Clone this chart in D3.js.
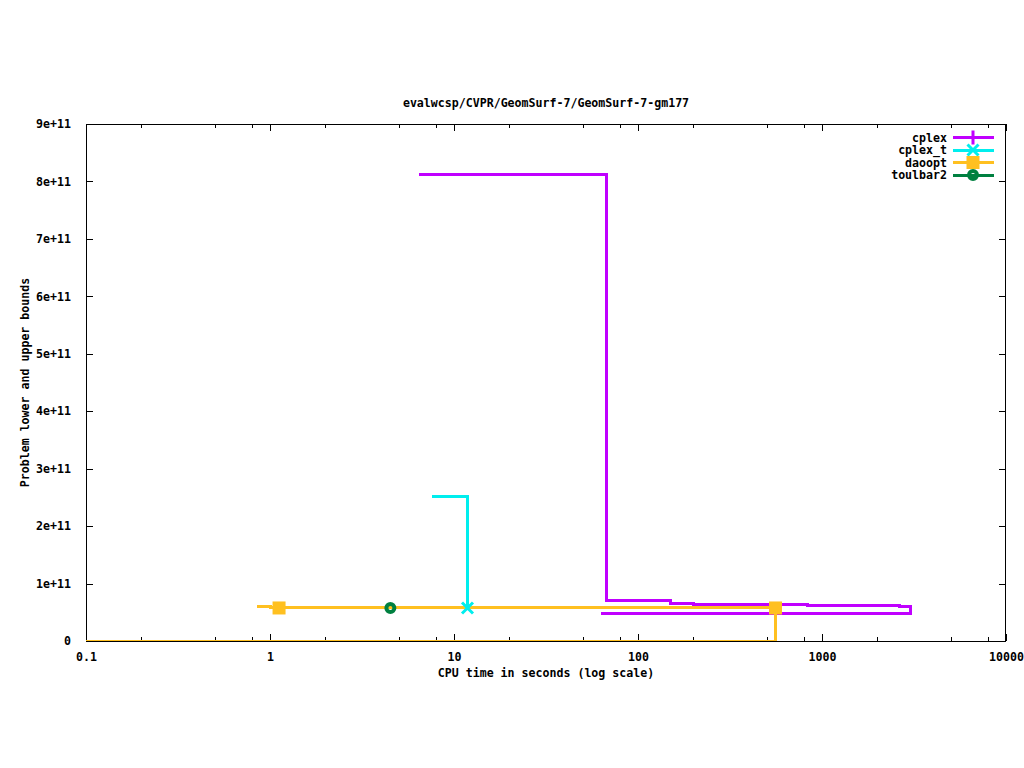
<!DOCTYPE html>
<html><head><meta charset="utf-8">
<script src="https://cdn.jsdelivr.net/npm/d3@7/dist/d3.min.js"></script>
<style>
body{margin:0;background:#fff;}
svg{display:block;}
text{font-family:"DejaVu Sans Mono","Liberation Mono",monospace;font-weight:bold;font-size:11.6px;fill:#000;}
</style></head>
<body>
<svg id="chart" width="1024" height="768"></svg>
<script>
const title = "evalwcsp/CVPR/GeomSurf-7/GeomSurf-7-gm177";
const xLabel = "CPU time in seconds (log scale)";
const yLabel = "Problem lower and upper bounds";
const seriesNames = ["cplex", "cplex_t", "daoopt", "toulbar2"];
const seriesColors = ["#c000ff", "#00eeee", "#ffc020", "#008040"];
const seriesMarkers = ["plus", "cross", "square", "circle"];

// bound paths: [time (s), value] — upper bounds then lower bounds (drawn as steps)
const cplexPath = [[6.45, 8.124e11], [67.3, 7.08e10], [150.6, 6.53e10], [200.8, 6.35e10], [839, 6.2e10], [2644, 6.04e10], [3008, 6.04e10], [3008, 4.82e10], [63, 4.82e10]];
const cplexTPath = [[7.59, 2.52e11], [11.84, 5.75e10]];
const daooptPath = [[0.849, 6.05e10], [1.0, 5.75e10], [558.8, 5.75e10], [558.8, 0], [0.05, 0]];
const toulbar2Path = [];

// marker points
const cplexPoints = [];
const cplexTPoints = [[11.84, 5.75e10]];
const daooptPoints = [[1.12, 5.75e10], [558.8, 5.75e10]];
const toulbar2Points = [[4.51, 5.75e10]];

const xTickValues = [0.1, 1, 10, 100, 1000, 10000];
const xTickLabels = ["0.1", "1", "10", "100", "1000", "10000"];
const xMinorMultipliers = [2, 5, 8];
const yTickValues = [0, 1e11, 2e11, 3e11, 4e11, 5e11, 6e11, 7e11, 8e11, 9e11];
const yTickLabels = ["0", "1e+11", "2e+11", "3e+11", "4e+11", "5e+11", "6e+11", "7e+11", "8e+11", "9e+11"];

const paths = [cplexPath, cplexTPath, daooptPath, toulbar2Path];
const points = [cplexPoints, cplexTPoints, daooptPoints, toulbar2Points];

const L = 86, R = 1006, T = 124, B = 641;
const svg = d3.select("#chart");
const x = d3.scaleLog().domain([0.1, 10000]).range([L, R]);
const y = d3.scaleLinear().domain([0, 9e11]).range([B, T]);

svg.append("defs").append("clipPath").attr("id", "clip")
  .append("rect").attr("x", L).attr("y", T).attr("width", R - L).attr("height", B - T);

// minor ticks
const minor = [];
xTickValues.forEach(v => xMinorMultipliers.forEach(m => { const t = v * m; if (t < 10000) minor.push(t); }));

const gAxes = svg.append("g");
const xAxisB = d3.axisBottom(x).tickValues(xTickValues).tickFormat((d, i) => xTickLabels[i]).tickSizeInner(-7).tickSizeOuter(0).tickPadding(12);
gAxes.append("g").attr("transform", `translate(0,${B})`).call(xAxisB);
const xAxisT = d3.axisTop(x).tickValues(xTickValues).tickFormat("").tickSizeInner(-7).tickSizeOuter(0);
gAxes.append("g").attr("transform", `translate(0,${T})`).call(xAxisT);
const xMinB = d3.axisBottom(x).tickValues(minor).tickFormat("").tickSizeInner(-4).tickSizeOuter(0);
gAxes.append("g").attr("transform", `translate(0,${B})`).call(xMinB);
const xMinT = d3.axisTop(x).tickValues(minor).tickFormat("").tickSizeInner(-4).tickSizeOuter(0);
gAxes.append("g").attr("transform", `translate(0,${T})`).call(xMinT);
const yAxisL = d3.axisLeft(y).tickValues(yTickValues).tickFormat((d, i) => yTickLabels[i]).tickSizeInner(-7).tickSizeOuter(0).tickPadding(15);
gAxes.append("g").attr("transform", `translate(${L},0)`).call(yAxisL);
const yAxisR = d3.axisRight(y).tickValues(yTickValues).tickFormat("").tickSizeInner(-7).tickSizeOuter(0);
gAxes.append("g").attr("transform", `translate(${R},0)`).call(yAxisR);
gAxes.selectAll(".domain").remove();
gAxes.selectAll("line").attr("stroke", "#000").attr("stroke-width", 1).attr("shape-rendering", "crispEdges");
gAxes.selectAll("text").attr("font-family", null).attr("font-size", null).attr("fill", "#000");
gAxes.selectAll("g.tick text").style("font-family", '"DejaVu Sans Mono","Liberation Mono",monospace').style("font-weight", "bold").style("font-size", "11.6px");

// frame
svg.append("rect").attr("x", L + 0.5).attr("y", T + 0.5).attr("width", R - L - 1).attr("height", B - T)
  .attr("fill", "none").attr("stroke", "#000").attr("stroke-width", 1).attr("shape-rendering", "crispEdges");

// lines
const line = d3.line().x(d => x(d[0])).y(d => y(d[1])).curve(d3.curveStepAfter);
const gLines = svg.append("g").attr("clip-path", "url(#clip)");
paths.forEach((p, i) => {
  if (p.length < 2) return;
  gLines.append("path").attr("d", line(p)).attr("fill", "none")
    .attr("stroke", seriesColors[i]).attr("stroke-width", 3).attr("stroke-linejoin", "miter")
    .attr("shape-rendering", "crispEdges");
});

function drawMarker(g, type, cx, cy, color) {
  if (type === "plus") {
    g.append("path").attr("d", `M${cx - 7},${cy}H${cx + 7}M${cx},${cy - 7}V${cy + 7}`)
      .attr("stroke", color).attr("stroke-width", 3).attr("fill", "none");
  } else if (type === "cross") {
    g.append("path").attr("d", `M${cx - 5.5},${cy - 5.5}L${cx + 5.5},${cy + 5.5}M${cx - 5.5},${cy + 5.5}L${cx + 5.5},${cy - 5.5}`)
      .attr("stroke", color).attr("stroke-width", 3).attr("fill", "none");
  } else if (type === "square") {
    g.append("rect").attr("x", cx - 6.5).attr("y", cy - 6.5).attr("width", 13).attr("height", 13).attr("fill", color);
  } else if (type === "circle") {
    g.append("circle").attr("cx", cx).attr("cy", cy).attr("r", 4).attr("fill", "none")
      .attr("stroke", color).attr("stroke-width", 4);
  }
}
const gPts = svg.append("g");
points.forEach((pts, i) => pts.forEach(d => drawMarker(gPts, seriesMarkers[i], x(d[0]), y(d[1]), seriesColors[i])));

// legend
const gLeg = svg.append("g");
seriesNames.forEach((n, i) => {
  const yy = 137.5 + i * 12.5;
  gLeg.append("text").attr("x", 947).attr("y", yy + 4).attr("text-anchor", "end").text(n);
  gLeg.append("line").attr("x1", 953).attr("x2", 994).attr("y1", yy).attr("y2", yy)
    .attr("stroke", seriesColors[i]).attr("stroke-width", 3).attr("shape-rendering", "crispEdges");
  drawMarker(gLeg, seriesMarkers[i], 973, yy, seriesColors[i]);
});

// titles
svg.append("text").attr("x", (L + R) / 2).attr("y", 107).attr("text-anchor", "middle").text(title);
svg.append("text").attr("x", (L + R) / 2).attr("y", 677).attr("text-anchor", "middle").text(xLabel);
svg.append("text").attr("transform", `translate(29,${(T + B) / 2}) rotate(-90)`).attr("text-anchor", "middle").text(yLabel);
</script>
</body></html>
